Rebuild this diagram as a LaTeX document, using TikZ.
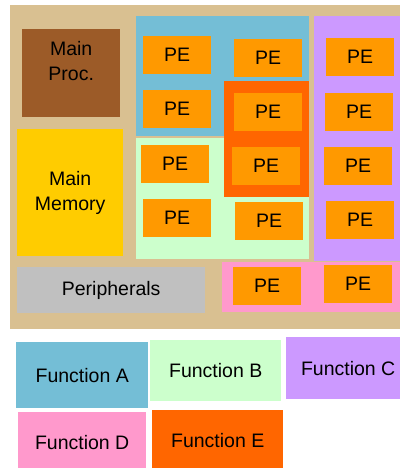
\documentclass[tikz,border=0pt]{standalone}
\usepackage{fontspec}
\setmainfont{Liberation Sans}
\usepackage{tikz}
\definecolor{bgtan}{HTML}{D9C091}
\definecolor{funcA}{HTML}{74BED6}
\definecolor{funcB}{HTML}{CCFFCC}
\definecolor{funcC}{HTML}{CC99FF}
\definecolor{funcD}{HTML}{FF99CC}
\definecolor{funcE}{HTML}{FF6600}
\definecolor{peorange}{HTML}{FF9900}
\definecolor{procbrown}{HTML}{9C5B28}
\definecolor{memyellow}{HTML}{FFCC00}
\definecolor{perigray}{HTML}{C0C0C0}

\begin{document}
\begin{tikzpicture}[x=1pt,y=-1pt,
	every node/.style={font=\fontsize{19.5}{25}\selectfont,inner sep=0pt},
	block/.style={rectangle,draw=none,anchor=north west,align=center},
	pe node/.style={block,fill=peorange,minimum width=68pt,minimum height=38pt}]
	
	\useasboundingbox (0,0) rectangle (399,468);
	
	% chip area
	\node[block,fill=bgtan,minimum width=400pt,minimum height=324pt] (chip) at (10,5) {};
	\node[block,fill=funcA,minimum width=173pt,minimum height=120pt] (A) at (136,16) {};
	\node[block,fill=funcB,minimum width=173pt,minimum height=121pt] (B) at (136,138) {};
	\node[block,fill=funcC,minimum width=95pt,minimum height=245pt] (C) at (314,16) {};
	\node[block,fill=funcD,minimum width=187pt,minimum height=50pt] (D) at (222,262) {};
	\node[block,fill=funcE,minimum width=85pt,minimum height=116pt] (E) at (224,81) {};
	
	\node[block,fill=procbrown,minimum width=98pt,minimum height=88pt,
		label={[align=center,anchor=north,yshift=-12pt]north:Main\\Proc.}] (proc) at (22,29) {};
	\node[block,fill=memyellow,minimum width=106pt,minimum height=127pt] (mem) at (17,129) {Main\\Memory};
	\node[block,fill=perigray,minimum width=188pt,minimum height=46pt] (peri) at (17,267) {Peripherals};
	
	% processing elements
	\node[pe node] (pe1) at (143,36) {PE};
	\node[pe node] (pe2) at (143,90) {PE};
	\node[pe node] (pe3) at (234,39) {PE};
	\node[pe node] (pe4) at (234,93) {PE};
	\node[pe node] (pe5) at (232,147) {PE};
	\node[pe node] (pe6) at (141,145) {PE};
	\node[pe node] (pe7) at (143,199) {PE};
	\node[pe node] (pe8) at (235,202) {PE};
	\node[pe node] (pe9) at (326,38) {PE};
	\node[pe node] (pe10) at (325,93) {PE};
	\node[pe node] (pe11) at (324,147) {PE};
	\node[pe node] (pe12) at (326,201) {PE};
	\node[pe node] (pe13) at (233,267) {PE};
	\node[pe node] (pe14) at (324,265) {PE};
	
	% key
	\node[block,fill=funcA,minimum width=132pt,minimum height=66pt] (keyA) at (16,342) {Function A};
	\node[block,fill=funcB,minimum width=131pt,minimum height=61pt] (keyB) at (150,340) {Function B};
	\node[block,fill=funcC,minimum width=124pt,minimum height=62pt] (keyC) at (286,337) {Function C};
	\node[block,fill=funcD,minimum width=128pt,minimum height=60pt] (keyD) at (18,412) {Function D};
	\node[block,fill=funcE,minimum width=131pt,minimum height=60pt] (keyE) at (152,410) {Function E};
\end{tikzpicture}
\end{document}
